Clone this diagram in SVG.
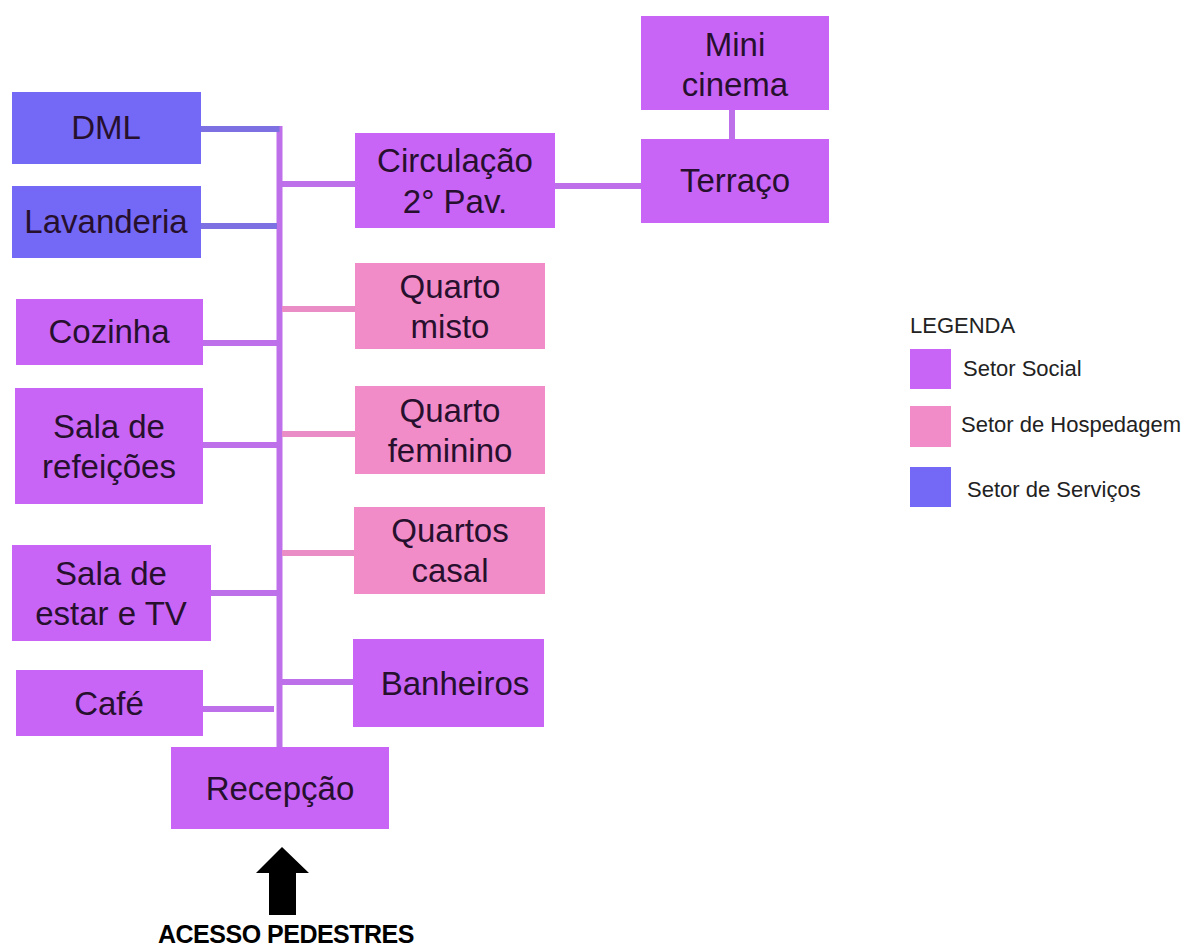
<svg xmlns="http://www.w3.org/2000/svg" width="1190" height="949" viewBox="0 0 1190 949">
<style>
  .social { fill: #c865f7; }
  .hosp { fill: #f28cc8; }
  .serv { fill: #7468f7; }
  .t { font-family: "Liberation Sans", Arial, sans-serif; font-size: 33px; fill: #26102e; text-anchor: middle; }
  .lg { font-family: "Liberation Sans", Arial, sans-serif; font-size: 22px; fill: #222222; }
  .c { fill: none; stroke-width: 6; }
  .cp { stroke: #bd70ea; }
  .ck { stroke: #ea8cc6; }
  .cb { stroke: #7c70e2; }
</style>
<rect width="1190" height="949" fill="#ffffff"/>

<g id="connectors">
  <line class="c cp" x1="279.5" y1="126" x2="279.5" y2="747"/>
  <line class="c cb" x1="201" y1="129" x2="279.5" y2="129"/>
  <line class="c cb" x1="201" y1="226" x2="277" y2="226"/>
  <line class="c cp" x1="203" y1="343" x2="277" y2="343"/>
  <line class="c cp" x1="203" y1="445" x2="277" y2="445"/>
  <line class="c cp" x1="211" y1="593" x2="277" y2="593"/>
  <line class="c cp" x1="203" y1="709" x2="274" y2="709"/>
  <line class="c cp" x1="282" y1="184" x2="355" y2="184"/>
  <line class="c ck" x1="282" y1="309" x2="355" y2="309"/>
  <line class="c ck" x1="282" y1="434" x2="355" y2="434"/>
  <line class="c ck" x1="282" y1="553" x2="354" y2="553"/>
  <line class="c cp" x1="282" y1="682" x2="353" y2="682"/>
  <line class="c cp" x1="555" y1="186" x2="641" y2="186"/>
  <line class="c cp" x1="732" y1="110" x2="732" y2="139"/>
</g>

<g id="dml"><rect class="serv" x="12" y="92" width="189" height="72"/><text class="t" x="106" y="139">DML</text></g>
<g id="lavanderia"><rect class="serv" x="12" y="186" width="189" height="72"/><text class="t" x="106" y="233">Lavanderia</text></g>
<g id="cozinha"><rect class="social" x="16" y="299" width="187" height="66"/><text class="t" x="109" y="343">Cozinha</text></g>
<g id="sala-refeicoes"><rect class="social" x="15" y="388" width="188" height="116"/><text class="t" x="109" y="438">Sala de</text><text class="t" x="109" y="478">refeições</text></g>
<g id="sala-estar"><rect class="social" x="12" y="545" width="199" height="96"/><text class="t" x="111" y="585">Sala de</text><text class="t" x="111" y="625">estar e TV</text></g>
<g id="cafe"><rect class="social" x="16" y="670" width="187" height="66"/><text class="t" x="109" y="715">Café</text></g>
<g id="recepcao"><rect class="social" x="171" y="747" width="218" height="82"/><text class="t" x="280" y="800">Recepção</text></g>

<g id="circulacao"><rect class="social" x="355" y="133" width="200" height="95"/><text class="t" x="455" y="172">Circulação</text><text class="t" x="455" y="213">2° Pav.</text></g>
<g id="quarto-misto"><rect class="hosp" x="355" y="263" width="190" height="86"/><text class="t" x="450" y="298">Quarto</text><text class="t" x="450" y="338">misto</text></g>
<g id="quarto-feminino"><rect class="hosp" x="355" y="386" width="190" height="88"/><text class="t" x="450" y="422">Quarto</text><text class="t" x="450" y="462">feminino</text></g>
<g id="quartos-casal"><rect class="hosp" x="354" y="507" width="191" height="87"/><text class="t" x="450" y="542">Quartos</text><text class="t" x="450" y="582">casal</text></g>
<g id="banheiros"><rect class="social" x="353" y="639" width="191" height="88"/><text class="t" x="455" y="695">Banheiros</text></g>

<g id="mini-cinema"><rect class="social" x="641" y="16" width="188" height="94"/><text class="t" x="735" y="56">Mini</text><text class="t" x="735" y="96">cinema</text></g>
<g id="terraco"><rect class="social" x="641" y="139" width="188" height="84"/><text class="t" x="735" y="192">Terraço</text></g>

<g id="acesso">
  <polygon points="282,847 309,873 296,873 296,915 269,915 269,873 256,873" fill="#000000"/>
  <text x="286" y="943" font-family="'Liberation Sans', Arial, sans-serif" font-size="25" font-weight="bold" fill="#000000" text-anchor="middle" letter-spacing="-0.5">ACESSO PEDESTRES</text>
</g>

<g id="legenda">
  <text class="lg" x="910" y="333">LEGENDA</text>
  <rect class="social" x="910" y="349" width="41" height="40"/>
  <text class="lg" x="963" y="376">Setor Social</text>
  <rect class="hosp" x="910" y="406" width="41" height="41"/>
  <text class="lg" x="961" y="432">Setor de Hospedagem</text>
  <rect class="serv" x="910" y="467" width="41" height="40"/>
  <text class="lg" x="967" y="497">Setor de Serviços</text>
</g>
</svg>
